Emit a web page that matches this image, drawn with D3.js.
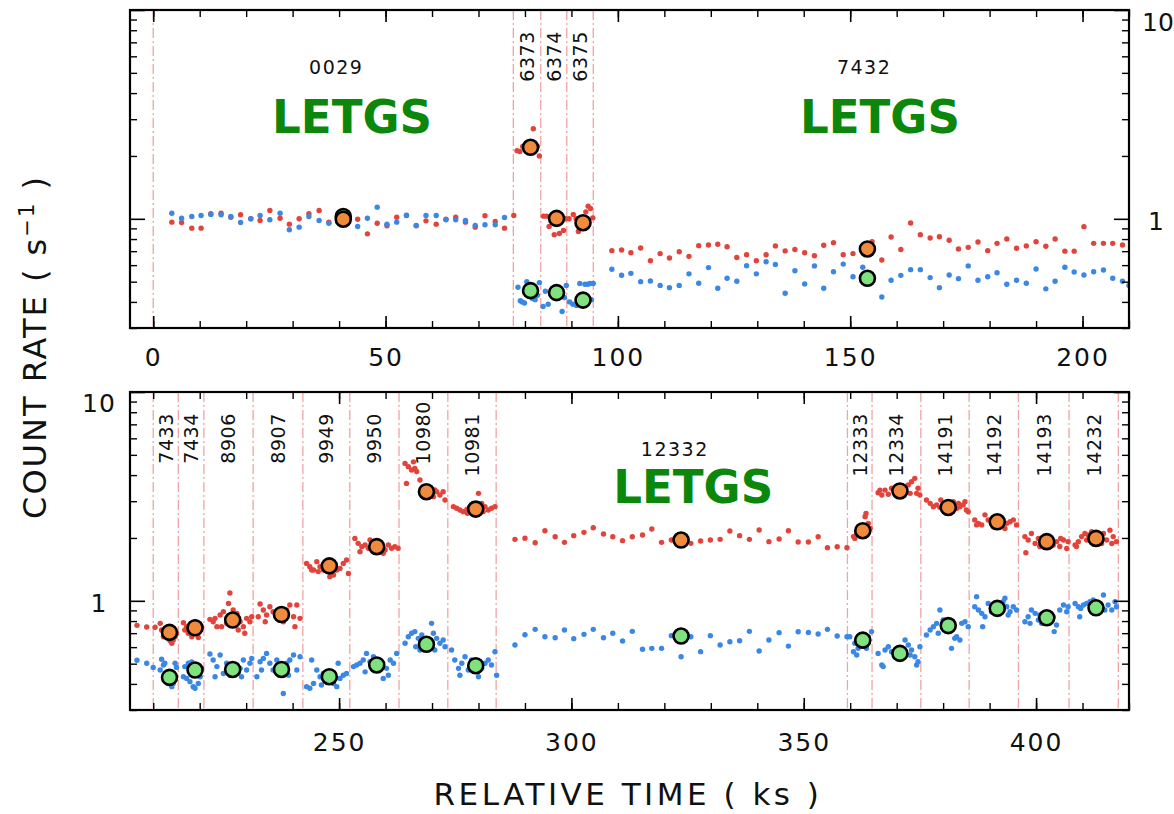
<!DOCTYPE html>
<html><head><meta charset="utf-8">
<script src="https://cdn.jsdelivr.net/npm/d3@7"></script>
<style>
body{margin:0;background:#fff;}
svg{display:block;}
</style></head><body>
<svg id="chart" width="1174" height="814"></svg>
<script>
// ---------------- DATA ----------------
const obsIds   = ["0029","6373","6374","6375","7432","7433","7434","8906","8907","9949","9950","10980","10981","12332","12333","12334","14191","14192","14193","14232"];
const obsStart = [0,77.5,83.4,89.0,94.7,210.0,215.4,220.9,231.5,242.2,252.3,262.9,273.4,283.8,359.4,364.7,375.2,385.6,396.2,407.1];
const obsEnd   = [77.5,83.4,89.0,94.7,210.0,215.4,220.9,231.5,242.2,252.3,262.9,273.4,283.8,359.4,364.7,375.2,385.6,396.2,407.1,417.7];
const markerTimes = [0,77.5,83.4,89.0,94.7,210.0,215.4,220.9,231.5,242.2,252.3,262.9,273.4,283.8,359.4,364.7,375.2,385.6,396.2,407.1,417.7];

const meanTime = [40.9,81.2,86.8,92.5,153.7,213.5,219.0,227.1,237.6,247.9,258.1,268.8,279.4,323.6,362.7,370.7,381.1,391.65,402.3,412.9];
const meanRed  = [0.996,2.20,1.005,0.958,0.717,0.706,0.743,0.809,0.86,1.47,1.817,3.33,2.75,1.955,2.166,3.357,2.80,2.39,1.92,1.99];
const meanBlue = [1.026,0.453,0.443,0.408,0.519,0.430,0.466,0.469,0.469,0.433,0.493,0.619,0.489,0.678,0.648,0.560,0.761,0.920,0.829,0.926];

const letgsText = "LETGS";
const letgsTime = [42.8,156.4,326.2];
const letgsRate = [2.58,2.58,2.94];

const xTicksTop = [0,50,100,150,200];
const xTicksBottom = [250,300,350,400];
const yTickLabels = [1,10];
const yMinor = [0.3,0.4,0.5,0.6,0.7,0.8,0.9,2,3,4,5,6,7,8,9];

// red (upper) light curve, top panel range [t (ks), rate]
const redTop = [
[4.0,0.964],[6.1,0.960],[8.3,0.902],[10.3,0.902],[12.4,1.057],[14.6,1.064],[16.7,1.018],[18.8,1.045],[21.0,1.0],[23.0,0.982],[25.1,1.096],[27.3,1.007],[29.3,0.943],[31.4,1.0],[33.5,1.057],[35.7,1.096],[37.8,0.964],[39.8,1.0],[41.9,1.0],[44.0,0.996],[46.1,0.847],[48.2,0.953],[50.3,0.926],[52.4,1.018],[54.5,1.037],[56.6,0.926],[58.7,0.978],[60.9,0.943],[63.0,0.996],[65.1,1.018],[67.2,0.964],[69.3,0.912],[71.4,1.034],[73.6,0.971],[75.6,0.902],[77.6,1.037],
[78.3,2.12],[78.9,2.10],[79.5,2.22],[80.1,2.18],[80.7,2.24],[81.3,2.20],[81.8,2.70],[82.3,2.18],[82.7,2.22],[83.1,2.0],
[84.0,1.03],[84.7,1.03],[85.2,0.92],[85.7,0.99],[86.3,0.84],[86.8,1.0],[87.4,0.85],[87.9,0.98],[88.3,0.88],[88.8,1.0],
[89.5,1.0],[90.4,1.05],[91.0,1.0],[91.5,0.87],[92.0,0.95],[92.6,0.96],[93.1,1.08],[93.6,1.15],[94.1,1.12],[94.6,1.01],
[98.7,0.704],[100.8,0.709],[102.8,0.688],[104.9,0.725],[107.0,0.630],[109.1,0.681],[111.1,0.649],[113.2,0.696],[115.3,0.661],[117.4,0.744],[119.5,0.749],[121.5,0.755],[123.5,0.735],[125.6,0.653],[127.7,0.673],[129.8,0.630],[131.9,0.673],[133.9,0.742],[136.0,0.702],[138.1,0.713],[140.2,0.688],[142.3,0.666],[144.3,0.747],[146.4,0.769],[148.5,0.673],[150.6,0.681],[152.7,0.715],[154.7,0.776],[156.8,0.635],[158.8,0.818],[160.9,0.713],[163.0,0.955],[165.1,0.839],[167.2,0.809],[169.2,0.821],[171.3,0.789],[173.3,0.717],[175.4,0.730],[177.5,0.774],[179.6,0.704],[181.6,0.763],[183.7,0.800],[185.8,0.723],[187.9,0.742],[190.0,0.777],[192.1,0.739],[194.1,0.800],[196.2,0.700],[198.2,0.700],[200.3,0.917],[202.4,0.763],[204.5,0.763],[206.5,0.763],[208.6,0.749]
];
// blue (lower) light curve, top panel range
const blueTop = [
[4.0,1.064],[6.1,1.007],[8.3,1.026],[10.3,1.037],[12.4,1.05],[14.6,1.045],[16.7,1.026],[18.8,0.960],[21.0,1.0],[23.0,1.037],[25.1,0.989],[27.3,1.064],[29.3,0.886],[31.4,0.912],[33.5,1.026],[35.7,0.982],[37.8,0.953],[39.8,1.01],[41.9,1.0],[44.0,0.919],[46.1,1.007],[48.2,1.137],[50.3,0.943],[52.4,0.964],[54.5,1.04],[56.6,0.929],[58.7,1.037],[60.9,1.037],[63.0,0.99],[65.1,0.99],[67.2,0.982],[69.3,0.929],[71.4,0.936],[73.6,0.936],[75.6,1.015],
[78.5,0.47],[79.0,0.405],[79.4,0.40],[79.9,0.395],[80.4,0.50],[80.9,0.47],[81.6,0.415],[82.2,0.41],[82.7,0.43],[83.1,0.495],
[83.9,0.38],[84.4,0.45],[85.0,0.39],[85.6,0.44],[86.2,0.45],[86.8,0.44],[87.4,0.43],[88.0,0.36],[88.5,0.42],[88.9,0.48],
[89.6,0.40],[90.3,0.39],[91.1,0.385],[91.8,0.49],[92.3,0.41],[92.9,0.486],[93.5,0.486],[94.0,0.49],[94.3,0.41],[94.7,0.49],
[98.7,0.573],[100.8,0.537],[102.8,0.548],[104.9,0.500],[107.0,0.504],[109.1,0.480],[111.1,0.468],[113.2,0.480],[115.3,0.545],[117.4,0.491],[119.5,0.584],[121.5,0.465],[123.5,0.519],[125.6,0.502],[127.7,0.596],[129.8,0.545],[131.9,0.623],[133.9,0.605],[136.0,0.440],[138.1,0.564],[140.2,0.488],[142.3,0.595],[144.3,0.465],[146.4,0.558],[148.5,0.607],[150.6,0.528],[152.7,0.586],[154.7,0.52],[156.8,0.422],[158.8,0.508],[160.9,0.536],[163.0,0.571],[165.1,0.571],[167.2,0.523],[169.2,0.468],[171.3,0.538],[173.3,0.517],[175.4,0.595],[177.5,0.508],[179.6,0.528],[181.6,0.552],[183.7,0.486],[185.8,0.508],[187.9,0.491],[190.0,0.575],[192.1,0.462],[194.1,0.502],[196.2,0.586],[198.2,0.556],[200.3,0.538],[202.4,0.558],[204.5,0.569],[206.5,0.519],[208.6,0.502]
];
// red light curve, bottom panel range
const redBottom = [
[210.4,0.747],[211.5,0.78],[211.8,0.725],[212.2,0.673],[212.5,0.699],[212.9,0.667],[213.25,0.738],[213.6,0.643],[214.0,0.626],[214.1,0.725],[214.3,0.649],[214.7,0.673],[215.0,0.699],
[216.5,0.786],[216.8,0.725],[217.2,0.752],[217.55,0.699],[217.9,0.725],[218.3,0.673],[218.6,0.766],[219.0,0.795],[219.3,0.699],[219.7,0.667],[220.1,0.725],[220.4,0.752],
[222.2,0.815],[222.9,0.794],[223.3,0.824],[223.7,0.752],[224.4,0.855],[224.7,0.752],[225.1,0.887],[225.8,0.78],[226.2,0.972],[226.5,1.09],[227.2,0.904],[228.0,0.871],[228.3,0.725],[228.7,0.794],[229.4,0.752],[229.7,0.699],[230.1,0.824],[230.8,0.794],[231.2,0.839],
[232.6,0.839],[233.0,0.965],[233.7,0.904],[234.1,0.794],[234.4,0.855],[235.1,0.937],[235.8,0.887],[236.6,0.839],[238.0,0.794],[238.7,0.904],[239.4,0.955],[240.2,0.839],[240.5,0.752],[240.9,0.955],[241.6,0.824],
[243.0,1.511],[243.7,1.457],[244.1,1.404],[244.5,1.404],[245.2,1.54],[245.5,1.38],[245.9,1.457],[246.6,1.404],[247.3,1.511],[248.0,1.305],[248.8,1.33],[249.5,1.404],[250.2,1.43],[250.9,1.511],[251.6,1.568],[252.0,1.353],
[253.4,1.99],[254.1,1.884],[254.5,1.72],[254.9,1.817],[255.6,1.85],[256.3,1.784],[256.65,1.955],[257.0,1.884],[259.2,1.817],[259.5,1.69],[259.9,1.751],[260.6,1.85],[261.3,1.784],[262.0,1.817],[262.7,1.784],
[264.2,4.55],[264.5,3.65],[264.9,4.39],[265.6,4.23],[266.0,4.63],[266.3,4.31],[266.7,4.16],[267.4,3.79],[268.1,3.52],[269.6,3.27],[270.3,3.153],[270.6,3.395],[271.0,3.33],[271.7,3.21],[272.4,3.33],[272.8,3.04],
[274.6,2.824],[275.3,2.773],[276.0,2.722],[276.7,2.673],[277.5,2.74],[277.6,2.624],[278.2,2.824],[278.9,2.93],[280.0,3.27],[280.7,2.93],[281.0,2.673],[281.4,2.824],[282.1,2.722],[282.8,2.773],[283.55,2.824],
[287.85,1.970],[290.0,1.992],[292.2,1.898],[294.3,2.167],[296.5,2.028],[298.5,1.905],[300.5,2.051],[302.7,2.128],[304.7,2.240],[306.9,2.089],[308.9,2.028],[311.0,1.941],[313.1,2.028],[315.3,2.066],[317.3,2.207],[319.4,1.905],[321.5,1.955],[323.6,1.95],[325.7,1.884],[327.8,1.934],[329.9,1.955],[332.0,1.970],[334.1,2.159],[336.2,2.051],[338.3,1.970],[340.4,2.183],[342.5,1.920],[344.7,1.977],[346.7,2.167],[348.8,1.913],[351.0,1.913],[353.1,2.028],[355.1,1.797],[357.2,1.816],[359.3,1.797],
[360.7,2.03],[361.0,1.99],[361.4,2.10],[361.7,2.14],[362.1,2.26],[363.2,2.53],[363.4,2.62],[363.5,2.07],[363.9,2.35],[364.3,2.22],
[366.0,3.29],[366.4,3.39],[366.8,3.21],[367.5,3.39],[368.2,3.24],[368.9,3.46],[369.6,3.33],[371.8,3.46],[372.5,3.59],[372.9,3.27],[373.2,3.72],[373.9,3.86],[374.3,3.27],[374.6,3.46],[375.0,3.21],
[376.4,3.04],[377.2,2.93],[377.9,2.82],[378.6,2.88],[379.3,2.80],[379.5,3.04],[380.0,2.93],[382.2,2.98],[382.9,2.77],[383.3,2.93],[383.6,2.82],[384.3,2.88],[384.7,2.98],[385.0,2.72],[385.4,2.67],
[386.8,2.44],[387.2,2.31],[387.6,2.35],[388.3,2.31],[389.0,2.58],[389.7,2.44],[390.4,2.35],[390.8,2.26],[392.2,2.31],[392.9,2.44],[393.3,2.22],[393.7,2.35],[394.4,2.39],[395.1,2.44],[395.8,2.31],
[397.6,2.03],[397.8,1.70],[398.3,1.955],[399.0,2.10],[399.8,1.88],[400.5,1.99],[400.8,1.82],[401.2,1.955],[403.7,1.85],[404.4,1.92],[405.1,1.82],[405.3,1.99],[405.9,1.955],[406.6,1.78],[406.9,1.92],
[408.4,1.85],[408.7,1.82],[409.1,1.92],[409.8,2.03],[410.5,2.10],[410.9,1.955],[411.2,2.07],[411.95,2.14],[414.1,1.88],[414.5,2.10],[415.2,1.955],[415.9,2.18],[416.3,1.88],[416.6,2.03],[417.3,1.92]
];
// blue light curve, bottom panel range
const blueBottom = [
[210.0,0.48],[211.5,0.466],[211.8,0.525],[212.2,0.493],[212.5,0.502],[212.9,0.449],[213.25,0.402],[213.6,0.425],[214.0,0.388],[214.3,0.402],[214.7,0.502],[215.0,0.48],
[216.5,0.433],[216.8,0.484],[217.2,0.425],[217.55,0.502],[217.9,0.41],[218.3,0.51],[218.6,0.388],[219.0,0.381],[219.3,0.44],[219.7,0.402],[220.1,0.433],[220.4,0.475],
[222.2,0.556],[222.9,0.521],[223.3,0.433],[223.7,0.484],[224.4,0.55],[225.1,0.449],[225.8,0.502],[226.5,0.44],[228.0,0.493],[228.3,0.457],[228.7,0.475],[229.0,0.433],[229.4,0.521],[230.1,0.466],[230.8,0.502],[231.2,0.53],
[232.3,0.433],[233.0,0.511],[233.3,0.466],[233.7,0.53],[234.4,0.56],[235.1,0.502],[235.8,0.466],[236.6,0.521],[238.0,0.36],[238.7,0.502],[239.1,0.44],[239.4,0.521],[240.2,0.55],[240.9,0.466],[241.6,0.54],
[243.0,0.388],[243.7,0.381],[244.1,0.521],[244.5,0.402],[245.2,0.466],[245.9,0.433],[246.2,0.395],[246.6,0.449],[247.3,0.425],[248.8,0.402],[249.5,0.388],[249.8,0.502],[250.2,0.425],[250.9,0.44],[251.6,0.449],
[253.1,0.484],[253.8,0.493],[254.5,0.502],[255.2,0.521],[255.6,0.457],[255.9,0.56],[256.65,0.511],[257.4,0.54],[258.8,0.484],[259.5,0.425],[260.2,0.475],[260.6,0.44],[261.0,0.521],[261.7,0.502],[262.4,0.56],
[264.2,0.626],[264.9,0.673],[265.6,0.699],[266.3,0.712],[266.5,0.603],[267.05,0.661],[267.4,0.581],[267.8,0.686],[269.9,0.78],[270.3,0.699],[270.6,0.581],[271.0,0.661],[271.7,0.626],[272.4,0.649],[272.8,0.603],
[274.2,0.581],[274.9,0.521],[275.7,0.475],[276.0,0.44],[276.4,0.502],[277.1,0.54],[277.8,0.466],[278.5,0.521],[280.0,0.433],[280.7,0.475],[281.4,0.502],[282.1,0.521],[282.8,0.493],[283.55,0.57],[283.9,0.44],
[287.85,0.614],[290.0,0.688],[292.2,0.730],[294.3,0.673],[296.5,0.666],[298.5,0.725],[300.5,0.659],[302.7,0.691],[304.7,0.730],[306.9,0.666],[308.9,0.699],[311.0,0.642],[313.1,0.714],[315.3,0.586],[317.3,0.592],[319.4,0.592],[321.5,0.681],[323.6,0.540],[325.7,0.673],[327.8,0.571],[329.9,0.681],[332.0,0.614],[334.1,0.637],[336.2,0.644],[338.3,0.714],[340.4,0.575],[342.5,0.649],[344.7,0.704],[346.7,0.607],[348.8,0.711],[351.0,0.706],[353.1,0.693],[355.1,0.730],[357.2,0.678],[359.3,0.673],
[359.9,0.673],[360.7,0.570],[361.0,0.626],[361.4,0.550],[361.7,0.592],[362.1,0.626],[363.2,0.614],[363.5,0.592],[363.9,0.673],[364.6,0.712],
[366.0,0.560],[366.8,0.493],[367.1,0.484],[367.5,0.581],[368.2,0.603],[368.9,0.570],[369.6,0.540],[371.8,0.649],[372.5,0.614],[372.9,0.550],[373.2,0.581],[373.9,0.540],[374.3,0.493],[374.6,0.511],[375.0,0.603],
[376.4,0.686],[377.2,0.725],[377.9,0.752],[378.6,0.780],[378.95,0.699],[379.3,0.904],[380.0,0.809],[381.8,0.592],[382.2,0.752],[382.5,0.661],[382.9,0.673],[383.6,0.649],[384.0,0.780],[384.7,0.794],[385.4,0.752],
[386.8,0.937],[387.2,1.047],[387.6,0.904],[388.3,0.871],[388.5,0.752],[389.0,0.839],[389.7,0.972],[390.4,0.887],[392.9,0.99],[393.3,1.028],[393.7,0.937],[394.0,0.855],[394.4,0.887],[395.1,0.937],[395.8,0.904],
[397.6,0.794],[398.3,0.839],[398.7,0.780],[399.0,0.904],[399.8,0.871],[400.5,0.809],[400.8,0.855],[401.2,0.780],[403.7,0.839],[403.9,0.712],[404.4,0.766],[405.1,0.904],[405.9,0.955],[406.6,0.887],[406.9,0.937],
[408.4,0.972],[409.1,0.937],[409.4,0.839],[409.6,0.920],[410.2,0.955],[410.9,0.972],[411.6,0.99],[412.3,1.009],[414.1,0.937],[414.5,1.066],[414.8,0.904],[415.5,0.955],[416.3,0.904],[417.0,0.99],[417.3,0.937]
];

// ---------------- DRAWING ----------------
const RED = "#e2443b", BLUE = "#3a87e6", ORANGE = "#f08a3c", GREEN = "#7fe27f", LINEC = "#f2a3a3", LETGSC = "#0b870b";
const FONT = "'DejaVu Sans', sans-serif";
const svg = d3.select("#chart");
const L = 130, R = 1129;

const panels = [
  {idx:0, top:10, bottom:328, x:d3.scaleLinear().domain([-5,210]).range([L,R]),
   xMajor:xTicksTop, xMinor:d3.range(0,211,10), labelSide:"right", tickPad:20},
  {idx:1, top:392, bottom:710, x:d3.scaleLinear().domain([205,420]).range([L,R]),
   xMajor:xTicksBottom, xMinor:d3.range(210,421,10), labelSide:"left", tickPad:23}
];
panels.forEach(p => { p.y = d3.scaleLog().domain([0.3,10]).range([p.bottom,p.top]); });

const redAll = redTop.concat(redBottom);
const blueAll = blueTop.concat(blueBottom);
const means = meanTime.map((t,i)=>({t, r:meanRed[i], b:meanBlue[i]}));
const obs = obsIds.map((id,i)=>({id, s:obsStart[i], e:obsEnd[i], mid:(obsStart[i]+obsEnd[i])/2}));

function styleAxis(g, sw){
  g.select(".domain").remove();
  g.selectAll(".tick line").attr("stroke","#000").attr("stroke-width",sw);
  g.selectAll("text").attr("font-family",FONT).attr("font-size",25).attr("fill","#111").attr("letter-spacing",2);
}

panels.forEach(p => {
  const g = svg.append("g");
  const cid = "clip"+p.idx;
  svg.append("clipPath").attr("id",cid).append("rect")
    .attr("x",L).attr("y",p.top).attr("width",R-L).attr("height",p.bottom-p.top);
  const inner = g.append("g").attr("clip-path",`url(#${cid})`);

  inner.selectAll("line.mk").data(markerTimes).join("line").attr("class","mk")
    .attr("x1",d=>p.x(d)).attr("x2",d=>p.x(d)).attr("y1",p.top).attr("y2",p.bottom)
    .attr("stroke",LINEC).attr("stroke-width",1.3).attr("stroke-dasharray","10,3,2,3");

  inner.selectAll("circle.r").data(redAll).join("circle").attr("class","r")
    .attr("cx",d=>p.x(d[0])).attr("cy",d=>p.y(d[1])).attr("r",2.7).attr("fill",RED);
  inner.selectAll("circle.b").data(blueAll).join("circle").attr("class","b")
    .attr("cx",d=>p.x(d[0])).attr("cy",d=>p.y(d[1])).attr("r",2.7).attr("fill",BLUE);

  inner.selectAll("circle.mb").data(means).join("circle").attr("class","mb")
    .attr("cx",d=>p.x(d.t)).attr("cy",d=>p.y(d.b)).attr("r",7.5)
    .attr("fill",GREEN).attr("stroke","#000").attr("stroke-width",2.6);
  inner.selectAll("circle.mr").data(means).join("circle").attr("class","mr")
    .attr("cx",d=>p.x(d.t)).attr("cy",d=>p.y(d.r)).attr("r",7.5)
    .attr("fill",ORANGE).attr("stroke","#000").attr("stroke-width",2.6);

  // observation labels
  const [d0,d1] = p.x.domain();
  const po = obs.filter(o => o.mid > d0 && o.mid < d1);
  po.filter(o => o.e - o.s > 50).forEach(o => {
    g.append("text").attr("x",p.x(o.mid)+3).attr("y",p.top+64)
      .attr("text-anchor","middle").attr("font-family",FONT).attr("font-size",19)
      .attr("letter-spacing",1.5).attr("fill","#111").text(o.id);
  });
  po.filter(o => o.e - o.s <= 50).forEach(o => {
    const yy = p.top + (o.id === "10980" ? 9 : 21);
    g.append("text").attr("transform",`translate(${p.x(o.mid)},${yy}) rotate(-90)`)
      .attr("text-anchor","end").attr("dy","0.36em").attr("font-family",FONT).attr("font-size",19)
      .attr("letter-spacing",0.6).attr("fill","#111").text(o.id);
  });

  // LETGS annotations
  letgsTime.forEach((t,i) => {
    if (t > d0 && t < d1) {
      g.append("text").attr("x",p.x(t)).attr("y",p.y(letgsRate[i]))
        .attr("text-anchor","middle").attr("font-family","'Comic Sans MS','DejaVu Sans',sans-serif")
        .attr("font-weight","bold").attr("font-size",47).attr("fill",LETGSC)
        .attr("textLength",160).attr("lengthAdjust","spacingAndGlyphs").text(letgsText);
    }
  });

  // frame
  g.append("rect").attr("x",L).attr("y",p.top).attr("width",R-L).attr("height",p.bottom-p.top)
    .attr("fill","none").attr("stroke","#000").attr("stroke-width",2.2);

  // x axes (bottom labelled, top unlabelled), ticks inward
  const xb = g.append("g").attr("transform",`translate(0,${p.bottom})`)
    .call(d3.axisBottom(p.x).tickValues(p.xMajor).tickSize(-12).tickPadding(p.tickPad).tickFormat(d3.format("d")));
  styleAxis(xb,1.6);
  const xbm = g.append("g").attr("transform",`translate(0,${p.bottom})`)
    .call(d3.axisBottom(p.x).tickValues(p.xMinor).tickSize(-7).tickFormat(""));
  styleAxis(xbm,1.4);
  const xt = g.append("g").attr("transform",`translate(0,${p.top})`)
    .call(d3.axisTop(p.x).tickValues(p.xMajor).tickSize(-12).tickFormat(""));
  styleAxis(xt,1.6);
  const xtm = g.append("g").attr("transform",`translate(0,${p.top})`)
    .call(d3.axisTop(p.x).tickValues(p.xMinor).tickSize(-7).tickFormat(""));
  styleAxis(xtm,1.4);

  // y axes, ticks inward on both sides
  const yl = g.append("g").attr("transform",`translate(${L},0)`)
    .call(d3.axisLeft(p.y).tickValues(yTickLabels).tickSize(-15).tickPadding(0)
      .tickFormat(p.labelSide === "left" ? d3.format("d") : () => ""));
  styleAxis(yl,1.6);
  yl.selectAll("text").attr("text-anchor","middle").attr("x",-31).attr("letter-spacing",1)
    .attr("y", d => d === 10 ? 11 : 3);
  const ylm = g.append("g").attr("transform",`translate(${L},0)`)
    .call(d3.axisLeft(p.y).tickValues(yMinor).tickSize(-7).tickFormat(""));
  styleAxis(ylm,1.4);
  const yr = g.append("g").attr("transform",`translate(${R},0)`)
    .call(d3.axisRight(p.y).tickValues(yTickLabels).tickSize(-15).tickPadding(0)
      .tickFormat(p.labelSide === "right" ? d3.format("d") : () => ""));
  styleAxis(yr,1.6);
  yr.selectAll("text").attr("text-anchor","start").attr("letter-spacing",0)
    .attr("x", d => d === 10 ? 13 : 19)
    .attr("y", d => d === 10 ? 12 : 3);
  const yrm = g.append("g").attr("transform",`translate(${R},0)`)
    .call(d3.axisRight(p.y).tickValues(yMinor).tickSize(-7).tickFormat(""));
  styleAxis(yrm,1.4);
});

// axis titles
svg.append("text").attr("x",628).attr("y",805).attr("text-anchor","middle")
  .attr("font-family",FONT).attr("font-size",31).attr("letter-spacing",3.5).attr("fill","#111")
  .text("RELATIVE TIME ( ks )");

const yt = svg.append("text").attr("transform","translate(46,347) rotate(-90)").attr("text-anchor","middle")
  .attr("font-family",FONT).attr("font-size",32).attr("letter-spacing",2).attr("fill","#111");
yt.append("tspan").text("COUNT RATE ( s");
yt.append("tspan").attr("baseline-shift","super").attr("font-size",21).text("\u22121");
yt.append("tspan").text(" )");
</script>
</body></html>
